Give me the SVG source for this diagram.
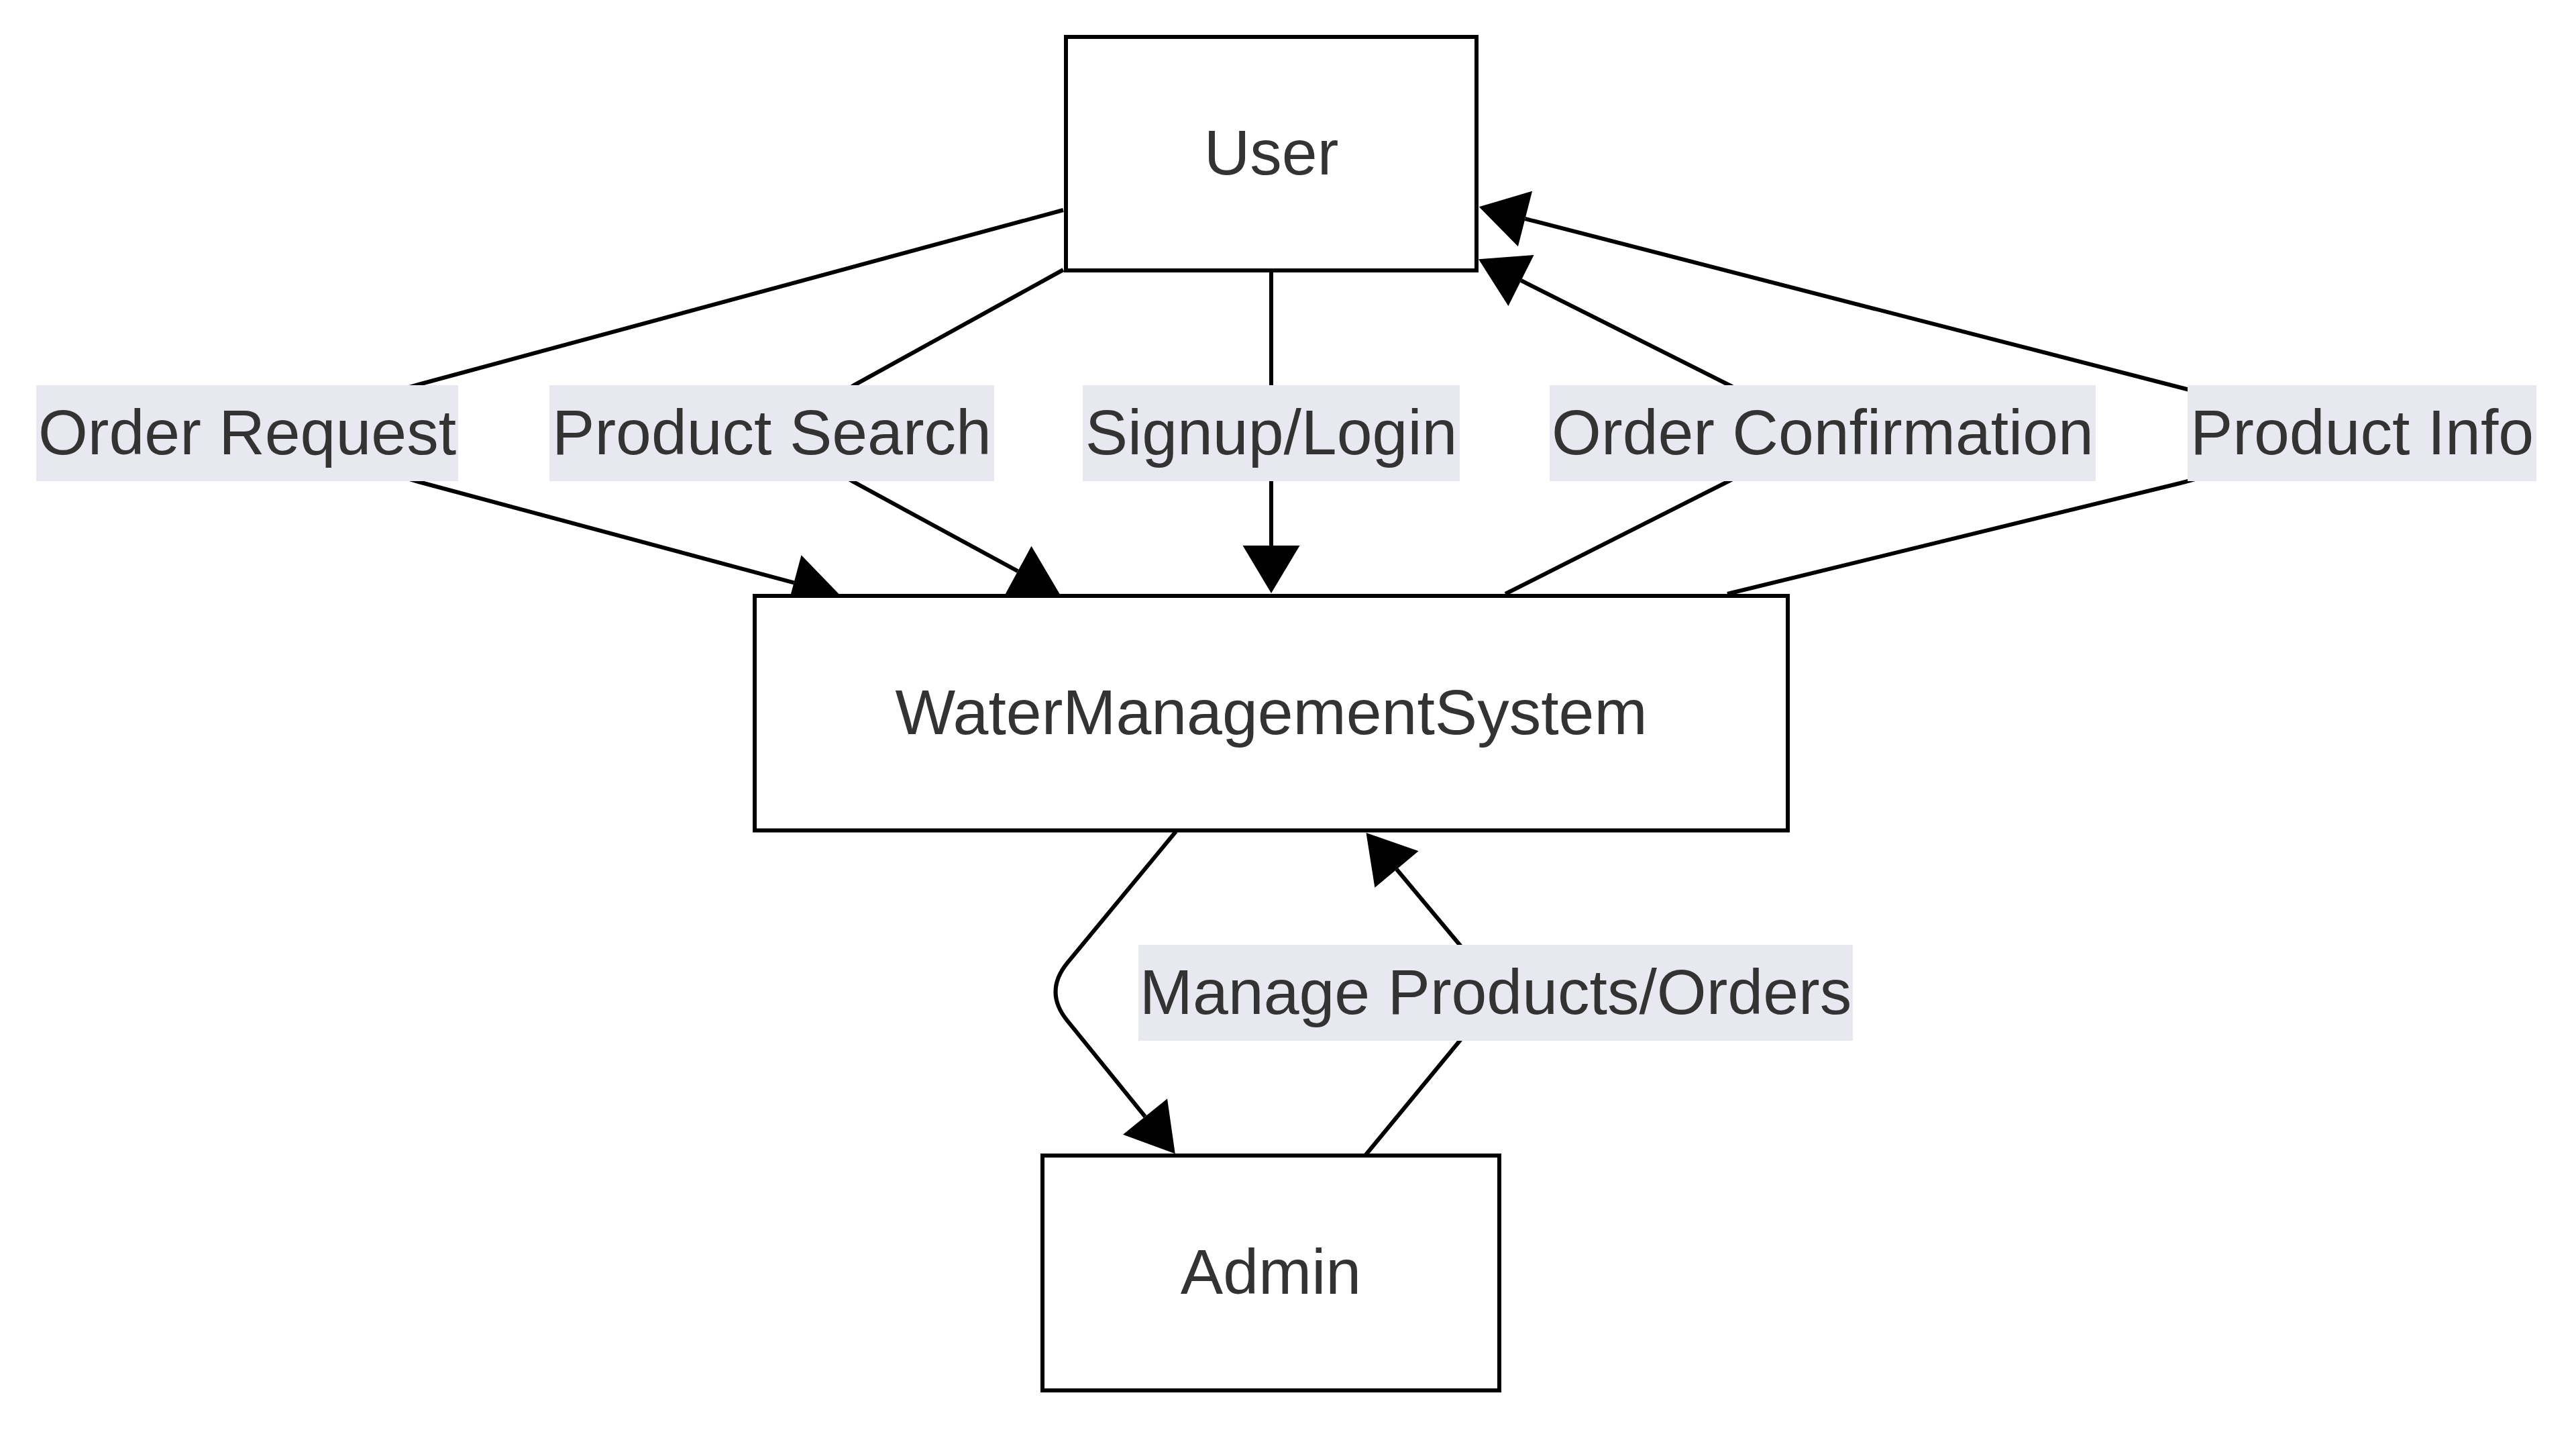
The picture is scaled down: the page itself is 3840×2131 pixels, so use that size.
<svg xmlns="http://www.w3.org/2000/svg" width="3840" height="2131" viewBox="0 0 3840 2131">
  <style>
    .node rect { fill: #ffffff; stroke: #000000; stroke-width: 6; }
    .node text, .label text { font-family: "Liberation Sans", Arial, sans-serif; font-size: 95px; fill: #333333; text-anchor: middle; }
    .edge { fill: none; stroke: #000000; stroke-width: 6; marker-end: url(#arrow); }
    .label rect { fill: #e8e8f0; stroke: none; }
  </style>
  <defs>
    <marker id="arrow" viewBox="0 0 71 85" markerUnits="userSpaceOnUse" markerWidth="71" markerHeight="85" refX="0" refY="42.5" orient="auto" overflow="visible">
      <path d="M0,0 L71,42.5 L0,85 z" fill="#000000"/>
    </marker>
  </defs>
  <rect x="0" y="0" width="3840" height="2131" fill="#ffffff"/>

  <g id="connectors">
    <path class="edge" d="M1585,313 L624,573 Q368,645 624,718 L1183.5,868.3"/>
    <path class="edge" d="M1585,402 L1275,573 Q1150,645 1272,718 L1517.2,851.2"/>
    <path class="edge" d="M1895,403 L1895,813"/>
    <path class="edge" d="M2244,885 L2577,717 Q2717,645 2578,574 L2267.5,418"/>
    <path class="edge" d="M2575,885 L3250,720 Q3521,650 3260,580 L2273.5,326"/>
    <path class="edge" d="M1753,1239 L1591,1435 Q1556,1478 1591,1521 L1707,1664"/>
    <path class="edge" d="M2035,1722 L2176,1551 Q2235,1480 2176,1408 L2082,1295.5"/>
  </g>

  <g id="edge-labels">
    <g class="label" id="label-order-request">
      <rect x="54" y="574" width="629" height="143"/>
      <text x="368.5" y="677">Order Request</text>
    </g>
    <g class="label" id="label-product-search">
      <rect x="819" y="574" width="663" height="143"/>
      <text x="1150.5" y="677">Product Search</text>
    </g>
    <g class="label" id="label-signup-login">
      <rect x="1614" y="574" width="562" height="143"/>
      <text x="1895" y="677">Signup/Login</text>
    </g>
    <g class="label" id="label-order-confirmation">
      <rect x="2310" y="574" width="814" height="143"/>
      <text x="2717" y="677">Order Confirmation</text>
    </g>
    <g class="label" id="label-product-info">
      <rect x="3261" y="574" width="520" height="143"/>
      <text x="3521" y="677">Product Info</text>
    </g>
    <g class="label" id="label-manage">
      <rect x="1697" y="1408" width="1065" height="143"/>
      <text x="2229.5" y="1511">Manage Products/Orders</text>
    </g>
  </g>

  <g class="node" id="node-user">
    <rect x="1589" y="55" width="612" height="348"/>
    <text x="1895" y="260">User</text>
  </g>
  <g class="node" id="node-wms">
    <rect x="1125" y="888" width="1540" height="349.5"/>
    <text x="1895" y="1094">WaterManagementSystem</text>
  </g>
  <g class="node" id="node-admin">
    <rect x="1554" y="1722" width="681" height="350"/>
    <text x="1894.5" y="1928">Admin</text>
  </g>
</svg>
